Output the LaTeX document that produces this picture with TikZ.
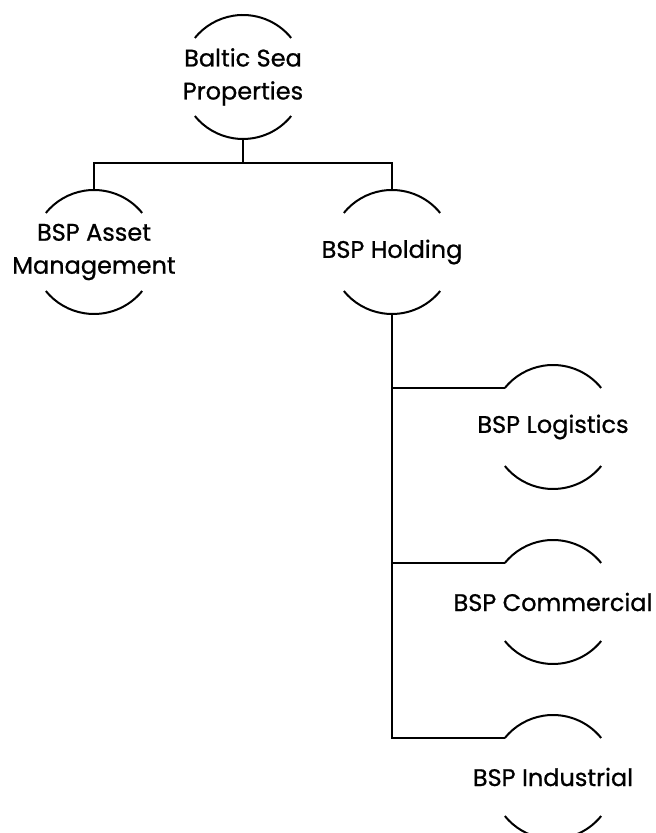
\documentclass[tikz,border=0pt]{standalone}
\usepackage{fontspec}
\setmainfont{Poppins}
\newfontfamily\unitfont{Poppins}[FakeBold=0.8]
\usepackage{tikz}
\usetikzlibrary{positioning}
\tikzset{unit/.style = {font=\unitfont\fontsize{12}{16.5}\selectfont, align=center, inner sep=0pt},
         link/.style = {line width=1pt}}
% arcs above and below a unit
\newcommand{\unitarcs}[1]{%
  \draw [link] ([shift={(39:62)}]#1.center) arc (39:141:62);
  \draw [link] ([shift={(-39:62)}]#1.center) arc (-39:-141:62);}

\begin{document}
\begin{tikzpicture}[x=0.5pt, y=0.5pt]
      \useasboundingbox (0, 0) rectangle (656, 833);

      \node [unit] (bsp) at (243, 756) {Baltic Sea\\Properties};
      \node [unit] (asset) at (94, 581) {BSP Asset\\Management};
      \node [unit] (holding) at (392, 581) {BSP Holding};
      \node [unit] (logistics) at (553, 406) {BSP Logistics};
      \node [unit] (commercial) at (553, 231) {BSP Commercial};
      \node [unit] (industrial) at (553, 56) {BSP Industrial};

      \foreach \n in {bsp, asset, holding, logistics, commercial, industrial}
        {\unitarcs{\n}}

      \draw [link] ([shift={(0,-62)}]bsp.center) -- ++(0, -24) -| ([shift={(0,62)}]asset.center);
      \draw [link] ([shift={(0,-62)}]bsp.center) -- ++(0, -24) -| ([shift={(0,62)}]holding.center);
      \foreach \n in {logistics, commercial, industrial}
        \draw [link] ([shift={(0,-62)}]holding.center) |- ([shift={(141:62)}]\n.center);
    \end{tikzpicture}
\end{document}
